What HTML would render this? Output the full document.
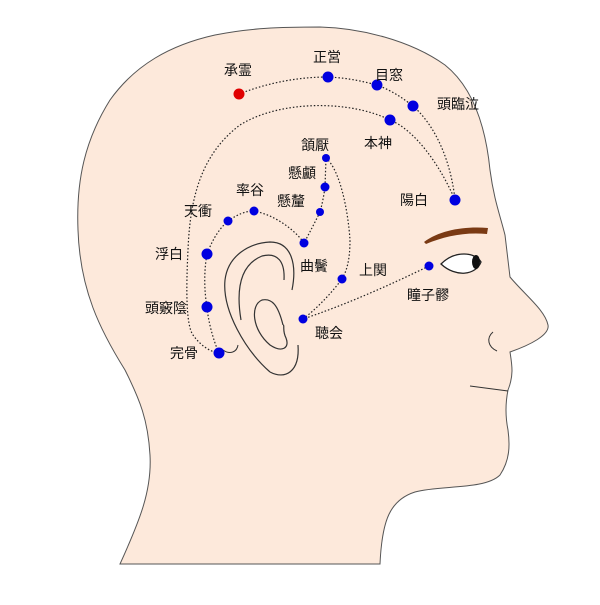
<!DOCTYPE html>
<html><head><meta charset="utf-8"><style>
body{margin:0;background:#fff}
text{font-family:"Liberation Sans","Noto Sans CJK JP",sans-serif;font-size:14px;fill:#111;text-anchor:middle}
</style></head><body>
<svg width="600" height="600" viewBox="0 0 600 600" xmlns="http://www.w3.org/2000/svg">
<path d="M120,564 C140,520 152,490 150,455 C148,420 140,400 125,370 C100,330 80,290 78,230 C76,180 85,140 110,100 C135,65 170,45 215,35 C250,28 280,27 320,27 C360,28 410,40 445,65 C470,85 485,120 490,170 C494,200 500,215 505,235 L510,277 C525,295 545,310 548,325 C550,335 530,345 510,352 C512,365 514,375 508,390 C505,405 506,420 508,430 C510,445 510,460 500,475 C485,490 440,485 415,492 C390,500 382,520 380,564 Z" fill="#fde9db" stroke="#555" stroke-width="1"/>
<!-- ear -->
<path d="M270,372 C245,350 222,310 225,280 C228,255 250,243 270,242 C292,242 297,265 292,290" fill="none" stroke="#333" stroke-width="1.2"/>
<path d="M241,320 C236,290 240,265 262,256 C278,252 285,262 284,280" fill="none" stroke="#333" stroke-width="1.2"/>
<path d="M283,325 C278,305 272,298 262,300 C250,305 252,330 270,345 C282,353 290,348 286,338 C282,330 285,325 283,325" fill="none" stroke="#333" stroke-width="1.2"/>
<path d="M270,372 C285,380 300,372 298,345" fill="none" stroke="#333" stroke-width="1.2"/>
<path d="M223,350 C230,355 237,352 238,345" fill="none" stroke="#333" stroke-width="1"/>
<!-- nose/mouth -->
<path d="M493,332 C486,338 488,347 497,351" fill="none" stroke="#333"/>
<path d="M470,386 C485,388 500,390 508,391" fill="none" stroke="#333"/>
<!-- eyebrow & eye -->
<path d="M424,242 C440,230 465,226 488,228 L487,234 C465,232 445,236 426,244 Z" fill="#7a3a14"/>
<path d="M441,264 C455,250 475,252 481,262 C476,275 456,278 441,264 Z" fill="#fff" stroke="#222" stroke-width="1.3"/>
<ellipse cx="476" cy="262" rx="4" ry="7" fill="#111"/>
<g fill="none" stroke="#222" stroke-width="1.2" stroke-dasharray="1.5,2">
<path d="M239,94 C270,82 300,77 328,77 C350,78 365,82 377,85 C395,92 405,100 413,106 C440,130 452,170 455,200"/>
<path d="M455,200 C440,165 415,130 390,120 C350,100 280,100 240,125 C200,155 190,200 188,250 C186,290 186,325 193,335 C200,345 210,352 219,353"/>
<path d="M219,353 C213,340 208,320 207,307 C204,290 204,270 207,254 C213,238 220,228 228,221 C238,214 246,211 254,211 C275,215 295,230 304,243 C310,232 315,222 320,212 C322,205 324,195 325,187 L326,158 C340,170 348,210 350,240 C350,262 346,272 342,279 C330,295 315,310 303,319 C345,305 390,285 429,266"/>
</g>
<g fill="#0000e0">
<circle cx="328" cy="77" r="5.5"/><circle cx="377" cy="85" r="5.5"/><circle cx="413" cy="106" r="5.5"/><circle cx="390" cy="120" r="5.5"/><circle cx="455" cy="200" r="5.5"/>
<circle cx="326" cy="158" r="4"/><circle cx="325" cy="187" r="4.5"/><circle cx="320" cy="212" r="4"/><circle cx="304" cy="243" r="4.5"/><circle cx="254" cy="211" r="4.5"/><circle cx="228" cy="221" r="4.5"/>
<circle cx="207" cy="254" r="5.5"/><circle cx="207" cy="307" r="5.5"/><circle cx="219" cy="353" r="5.5"/><circle cx="342" cy="279" r="4.5"/><circle cx="303" cy="319" r="4.5"/><circle cx="429" cy="266" r="4.5"/>
</g>
<circle cx="239" cy="94" r="5.5" fill="#e00000"/>
<text x="238" y="75">承霊</text><text x="327" y="62">正営</text><text x="389" y="80">目窓</text><text x="458" y="109">頭臨泣</text>
<text x="378" y="148">本神</text><text x="315" y="150">頷厭</text><text x="302" y="178">懸顱</text><text x="291" y="206">懸釐</text>
<text x="250" y="195">率谷</text><text x="198" y="216">天衝</text><text x="169" y="259">浮白</text><text x="166" y="313">頭竅陰</text>
<text x="184" y="358">完骨</text><text x="314" y="271">曲鬢</text><text x="373" y="275">上関</text><text x="428" y="300">瞳子髎</text>
<text x="329" y="338">聴会</text><text x="414" y="205">陽白</text>
</svg>
</body></html>
